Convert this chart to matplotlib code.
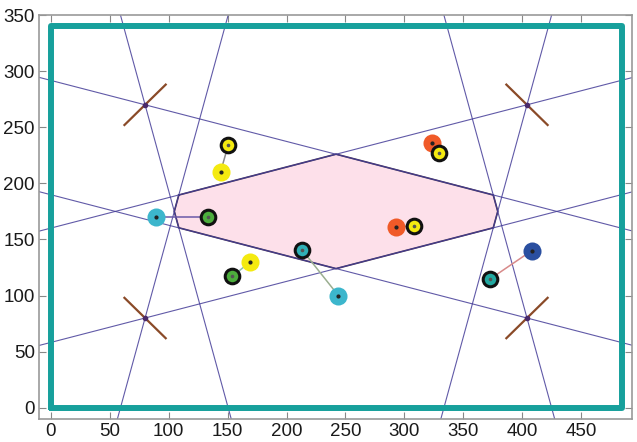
import numpy as np
import matplotlib
matplotlib.use("Agg")
import matplotlib.pyplot as plt
from matplotlib import font_manager

# corner markers (x, y) and the slopes of the two lines through each
corner_x = [80, 80, 404, 404]
corner_y = [270, 80, 270, 80]
shallow_slope = [-0.272, 0.272, 0.272, -0.272]
steep_slope = [-3.83, 3.83, 3.83, -3.83]
cross_dx = [17.5, 17.5, -17.5, -17.5]
cross_dy = [18, -18, 18, -18]

# feasible region
poly_x = [108.6, 242, 375.4, 379.2, 375.4, 242, 108.6, 104.8]
poly_y = [189.6, 226, 189.6, 175, 160.4, 124, 160.4, 175]

# point pairs: plain point -> outlined point
plain_x = [144, 89, 169, 244, 323, 293, 408]
plain_y = [210, 170, 130, 100, 236, 161, 140]
plain_c = ["#f4ea10", "#3cb6cc", "#f4ea10", "#3cb6cc", "#f05a28", "#f05a28", "#2a4fa0"]
ring_x = [150.5, 133.5, 154, 213, 329, 308, 373]
ring_y = [234, 170, 117, 141, 227, 162, 115]
ring_c = ["#f4ea10", "#4cae3c", "#4cae3c", "#2fb0b6", "#f4ea10", "#f4ea10", "#22a8a0"]
link_c = ["#8a8a8a", "#6a5aa8", "#8ac0b0", "#9aae90", "#888888", "#888888", "#d88a8a"]

# boundary box
box_x = [0, 485, 485, 0, 0]
box_y = [0, 0, 340, 340, 0]

names = {f.name for f in font_manager.fontManager.ttflist}
narrow = "Liberation Sans Narrow" if "Liberation Sans Narrow" in names else "Liberation Sans"
plt.rcParams["font.family"] = [narrow, "DejaVu Sans"]

fig = plt.figure(figsize=(6.37, 4.42), dpi=100)
ax = fig.add_axes([0.0612, 0.052, 0.9308, 0.914])

ax.fill(poly_x, poly_y, color="#fde0ea", zorder=1)
ax.plot(poly_x + poly_x[:1], poly_y + poly_y[:1], color="#433656", lw=1.2, zorder=2)

for x, y, a, b in zip(corner_x, corner_y, shallow_slope, steep_slope):
    ax.axline((x, y), slope=a, color="#453d98", lw=0.8, alpha=0.85, zorder=2)
    ax.axline((x, y), slope=b, color="#453d98", lw=0.8, alpha=0.85, zorder=2)

for x, y, dx, dy in zip(corner_x, corner_y, cross_dx, cross_dy):
    ax.plot([x - dx, x + dx], [y - dy, y + dy], color="#8a4a28", lw=1.6, zorder=3)
    ax.plot(x, y, "o", ms=3, color="#4a2a6a", zorder=4)

ax.plot(box_x, box_y, color="#17a09c", lw=4.3, solid_capstyle="round", zorder=3)

for i in range(len(plain_x)):
    ax.plot([plain_x[i], ring_x[i]], [plain_y[i], ring_y[i]], color=link_c[i], lw=1.1, zorder=4)
    ax.plot(plain_x[i], plain_y[i], "o", ms=13, color=plain_c[i], mec="none", zorder=5)
    ax.plot(plain_x[i], plain_y[i], "o", ms=2, color="#222222", zorder=6)
    ax.plot(ring_x[i], ring_y[i], "o", ms=10.5, color=ring_c[i], mec="#111111", mew=2.2, zorder=7)
    ax.plot(ring_x[i], ring_y[i], "o", ms=1.6, color="#555555", zorder=8)

ax.set_xlim(-10, 493)
ax.set_ylim(-10, 350)
ax.set_xticks(np.arange(0, 451, 50))
ax.set_yticks(np.arange(0, 351, 50))
ax.tick_params(direction="in", top=True, right=True, length=5, color="#888888",
               labelsize=13.5, labelcolor="#1a1a1a", pad=3)
for s in ax.spines.values():
    s.set_color("#999999")
    s.set_linewidth(1.2)

fig.savefig("out.png", dpi=100)
